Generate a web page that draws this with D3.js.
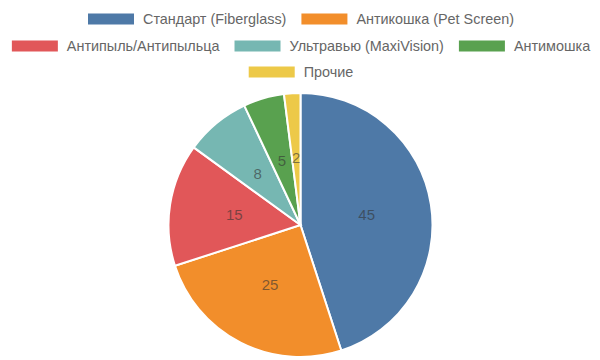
<!DOCTYPE html>
<html><head><meta charset="utf-8">
<script src="https://cdn.jsdelivr.net/npm/d3@7"></script>
<style>html,body{margin:0;padding:0;background:#fff;}svg{display:block;}</style>
</head><body>
<svg id="chart" width="600" height="360"></svg>
<script>
const categories = ["Стандарт (Fiberglass)", "Антикошка (Pet Screen)", "Антипыль/Антипыльца", "Ультравью (MaxiVision)", "Антимошка", "Прочие"];
const values = [45, 25, 15, 8, 5, 2];
const colors = ["#4e79a7", "#f28e2b", "#e15759", "#76b7b2", "#59a14f", "#edc948"];
const legendRows = [[0, 1], [2, 3, 4], [5]];

const svg = d3.select("#chart");
const cx = 300.5, cy = 225, R = 132;
const fontFam = "Liberation Sans, Arial, Helvetica, sans-serif";

// Legend
const boxW = 46, boxH = 11, textGap = 9, itemGap = 15, legendCenter = 301;
const rowY = [19, 46, 72];
const lg = svg.append("g");
legendRows.forEach((row, ri) => {
  const items = row.map(i => {
    const g = lg.append("g");
    g.append("rect").attr("width", boxW).attr("height", boxH).attr("y", -boxH / 2)
      .attr("fill", colors[i]);
    const t = g.append("text").attr("x", boxW + textGap).attr("dy", "0.35em")
      .attr("font-family", fontFam).attr("font-size", 14.4).attr("fill", "#666")
      .text(categories[i]);
    const w = boxW + textGap + t.node().getComputedTextLength();
    return {g, w};
  });
  const total = d3.sum(items, d => d.w) + itemGap * (items.length - 1);
  let x = legendCenter - total / 2;
  items.forEach(it => {
    it.g.attr("transform", `translate(${x},${rowY[ri]})`);
    x += it.w + itemGap;
  });
});

// Pie
const pie = d3.pie().sort(null).value(d => d);
const arc = d3.arc().innerRadius(0).outerRadius(R);
const labelArc = d3.arc().innerRadius(R / 2 + 1).outerRadius(R / 2 + 1);
const arcs = pie(values);
const pg = svg.append("g").attr("transform", `translate(${cx},${cy})`);
pg.selectAll("path").data(arcs).join("path")
  .attr("d", arc).attr("fill", (d, i) => colors[i])
  .attr("stroke", "#fff").attr("stroke-width", 2);
pg.selectAll("text").data(arcs).join("text")
  .attr("transform", d => `translate(${labelArc.centroid(d)})`)
  .attr("text-anchor", "middle").attr("dy", "0.35em")
  .attr("font-family", fontFam).attr("font-size", 15).attr("fill", "#333").attr("fill-opacity", 0.6)
  .text(d => d.data);
</script>
</body></html>
